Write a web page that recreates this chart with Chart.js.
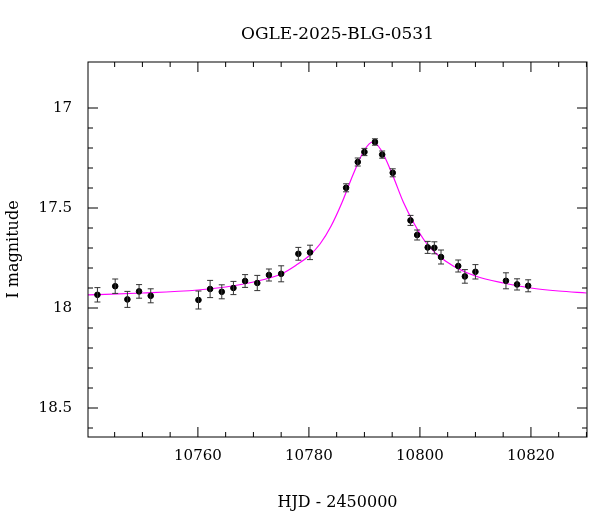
<!DOCTYPE html>
<html><head><meta charset="utf-8">
<script src="https://cdn.jsdelivr.net/npm/chart.js@4"></script>
<style>html,body{margin:0;padding:0;background:#fff}#w{width:600px;height:512px}</style>
</head><body><div id="w"><canvas id="c"></canvas></div>
<script>
const obsHJD = [10741.9,10745.1,10747.3,10749.4,10751.5,10760.1,10762.2,10764.3,10766.4,10768.5,10770.7,10772.8,10775.0,10778.1,10780.2,10786.7,10788.8,10790.0,10791.9,10793.2,10795.1,10798.3,10799.5,10801.4,10802.6,10803.8,10806.9,10808.1,10810.0,10815.5,10817.5,10819.5];
const obsMag = [17.934,17.891,17.957,17.917,17.939,17.960,17.905,17.919,17.900,17.865,17.875,17.835,17.829,17.729,17.722,17.399,17.270,17.220,17.170,17.233,17.324,17.562,17.635,17.697,17.699,17.745,17.790,17.842,17.819,17.864,17.882,17.889];
const obsErr = [0.036,0.036,0.04,0.034,0.035,0.045,0.043,0.035,0.033,0.032,0.038,0.03,0.04,0.032,0.036,0.02,0.02,0.018,0.016,0.018,0.02,0.025,0.025,0.03,0.03,0.035,0.03,0.034,0.036,0.04,0.028,0.03];
const modelHJD = [10740,10750,10760,10765,10770,10775,10778,10780,10782,10784,10786,10788,10790,10791.5,10793,10795,10797,10799,10801,10803,10806,10810,10815,10820,10825,10830];
const modelMag = [17.935,17.925,17.91,17.895,17.87,17.83,17.78,17.74,17.68,17.59,17.47,17.33,17.21,17.17,17.21,17.33,17.47,17.58,17.67,17.73,17.79,17.84,17.875,17.90,17.915,17.925];
const yTicks = [17,17.5,18,18.5];
const xTicks = [10760,10780,10800,10820];
const FONT = "'DejaVu Serif', 'Liberation Serif', serif";

const deco = {
  id:'deco',
  afterDatasetsDraw(ch){
    const {ctx, chartArea:a, scales:{x,y}} = ch;
    ctx.save();
    ctx.strokeStyle='#333'; ctx.lineWidth=1;
    obsHJD.forEach((t,i)=>{
      const px=x.getPixelForValue(t), y1=y.getPixelForValue(obsMag[i]-obsErr[i]), y2=y.getPixelForValue(obsMag[i]+obsErr[i]);
      ctx.beginPath();
      ctx.moveTo(px,y1);ctx.lineTo(px,y2);
      ctx.moveTo(px-3,y1);ctx.lineTo(px+3,y1);
      ctx.moveTo(px-3,y2);ctx.lineTo(px+3,y2);
      ctx.stroke();
    });
    ctx.strokeStyle='#000'; ctx.lineWidth=1;
    ctx.strokeRect(a.left,a.top,a.right-a.left,a.bottom-a.top);
    ctx.beginPath();
    for(let v=17;v<=18.6;v=Math.round((v+0.1)*10)/10){
      const py=y.getPixelForValue(v); if(py<a.top||py>a.bottom) continue;
      const L=(Math.abs(v*2-Math.round(v*2))<1e-6)?10:5;
      ctx.moveTo(a.left,py);ctx.lineTo(a.left+L,py);
      ctx.moveTo(a.right,py);ctx.lineTo(a.right-L,py);
    }
    for(let v=10745;v<=10830;v+=5){
      const px=x.getPixelForValue(v); if(px<a.left||px>a.right) continue;
      const L=(v%20===0)?10:5;
      ctx.moveTo(px,a.bottom);ctx.lineTo(px,a.bottom-L);
      ctx.moveTo(px,a.top);ctx.lineTo(px,a.top+L);
    }
    ctx.stroke();
    ctx.fillStyle='#000'; ctx.font='17px '+FONT; ctx.textAlign='center';
    ctx.fillText('OGLE-2025-BLG-0531',(a.left+a.right)/2,39);
    ctx.restore();
  }
};

new Chart(document.getElementById('c'),{
  data:{datasets:[
    {type:'line',data:modelHJD.map((t,i)=>({x:t,y:modelMag[i]})),borderColor:'#ff00ff',borderWidth:1.2,pointRadius:0,tension:0.4,cubicInterpolationMode:'monotone',order:2},
    {type:'scatter',data:obsHJD.map((t,i)=>({x:t,y:obsMag[i]})),backgroundColor:'#000',borderColor:'#000',pointRadius:2.8,order:1}
  ]},
  options:{
    responsive:true,maintainAspectRatio:false,animation:false,
    layout:{padding:{top:62,right:13,left:0,bottom:0}},
    plugins:{legend:{display:false},tooltip:{enabled:false}},
    scales:{
      x:{type:'linear',min:10740.2,max:10830.1,
        afterBuildTicks:s=>{s.ticks=xTicks.map(v=>({value:v}));},
        afterFit:s=>{s.height=75;},
        grid:{display:false},border:{display:false},
        ticks:{color:'#000',font:{family:FONT,size:15},padding:2,maxRotation:0,callback:v=>String(v)},
        title:{display:true,text:'HJD - 2450000',color:'#000',font:{family:FONT,size:16},padding:{top:6,bottom:0}}},
      y:{type:'linear',reverse:true,min:16.77,max:18.645,
        afterBuildTicks:s=>{s.ticks=yTicks.map(v=>({value:v}));},
        afterFit:s=>{s.width=88;},
        grid:{display:false},border:{display:false},
        ticks:{color:'#000',font:{family:FONT,size:15},padding:8,callback:v=>String(v)},
        title:{display:true,text:'I magnitude',color:'#000',font:{family:FONT,size:16},padding:{bottom:4}}}
    }
  },
  plugins:[deco]
});
</script></body></html>
